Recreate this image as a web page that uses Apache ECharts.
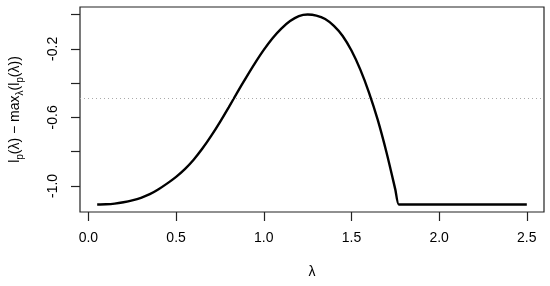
<!DOCTYPE html>
<html>
<head>
<meta charset="utf-8">
<script src="https://cdn.jsdelivr.net/npm/echarts@6/dist/echarts.min.js"></script>
<style>
html,body{margin:0;padding:0;background:#fff;}
#chart{width:550px;height:286px;}
</style>
</head>
<body>
<div id="chart"></div>
<script>
'use strict';

// lambda grid and profile log-likelihood (relative to max)
var lambdas=[0.05,0.10,0.15,0.20,0.25,0.30,0.35,0.40,0.45,0.50,
    0.55,0.60,0.65,0.70,0.75,0.80,0.85,0.90,0.95,1.00,
    1.05,1.10,1.15,1.20,1.25,1.30,1.35,1.40,1.45,1.50,
    1.55,1.60,1.65,1.70,1.75,1.77,1.80,1.85,1.90,1.95,
    2.00,2.05,2.10,2.15,2.20,2.25,2.30,2.35,2.40,2.45,2.50];
var profile=[-1.108,-1.107,-1.103,-1.095,-1.084,-1.069,-1.048,-1.019,-0.985,-0.947,
    -0.902,-0.847,-0.782,-0.708,-0.627,-0.541,-0.453,-0.366,-0.283,-0.206,
    -0.138,-0.082,-0.038,-0.009,0.000,-0.006,-0.026,-0.066,-0.125,-0.210,
    -0.320,-0.455,-0.615,-0.805,-1.020,-1.108,-1.108,-1.108,-1.108,-1.108,
    -1.108,-1.108,-1.108,-1.108,-1.108,-1.108,-1.108,-1.108,-1.108,-1.108,-1.108];
var cutoff=-0.494;

var xTicks=[0,0.5,1.0,1.5,2.0,2.5];
var yTicks=[-1.0,-0.8,-0.6,-0.4,-0.2,0.0];
var yLabels=[-1.0,-0.6,-0.2];

var FONT='"Liberation Sans", Arial, Helvetica, sans-serif';

var chart=echarts.init(document.getElementById('chart'),null,{renderer:'canvas'});
var points=lambdas.map(function(l,i){return [l,profile[i]];});

chart.setOption({
    animation:false,
    backgroundColor:'#fff',
    grid:{left:77,right:6,top:7,bottom:74,show:true,borderColor:'#222',borderWidth:1.2,backgroundColor:'transparent'},
    xAxis:{
        type:'value',min:-0.048,max:2.598,
        name:'λ',nameLocation:'middle',nameGap:53,
        nameTextStyle:{color:'#000',fontSize:14,fontFamily:FONT},
        axisLine:{show:false,onZero:false},
        splitLine:{show:false},
        axisTick:{show:true,length:9,inside:false,customValues:xTicks,lineStyle:{color:'#222',width:1.2}},
        axisLabel:{customValues:xTicks,margin:19,color:'#000',fontSize:14,fontFamily:FONT,
            formatter:function(v){return v.toFixed(1);}}
    },
    yAxis:{
        type:'value',min:-1.152,max:0.044,
        name:'{n|l}{s|p}{n|(λ) − max}{s|λ}{n|(l}{s|p}{n|(λ))}',
        nameLocation:'middle',nameGap:55,nameRotate:90,
        nameTextStyle:{color:'#000',fontFamily:FONT,
            rich:{
                n:{fontSize:14,fontFamily:FONT,color:'#000',lineHeight:20},
                s:{fontSize:10,fontFamily:FONT,color:'#000',lineHeight:10,verticalAlign:'bottom'}
            }},
        axisLine:{show:false,onZero:false},
        splitLine:{show:false},
        axisTick:{show:true,length:9,inside:false,customValues:yTicks,lineStyle:{color:'#222',width:1.2}},
        axisLabel:{customValues:yLabels,rotate:90,margin:20,color:'#000',fontSize:14,fontFamily:FONT,
            formatter:function(v){return v.toFixed(1);}}
    },
    series:[{
        type:'line',
        data:points,
        showSymbol:false,
        clip:false,
        smooth:0.25,
        lineStyle:{color:'#000',width:2.4},
        markLine:{
            silent:true,symbol:'none',label:{show:false},
            lineStyle:{color:'#aaa',type:[1,3],width:1},
            data:[{yAxis:cutoff}]
        }
    }]
});
</script>
</body>
</html>
